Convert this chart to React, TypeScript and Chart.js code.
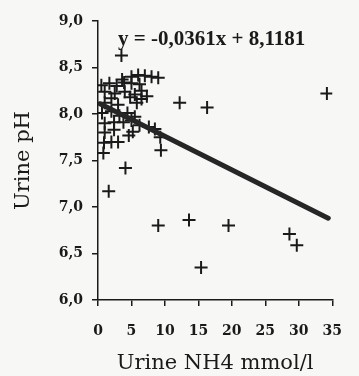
import { useEffect, useRef } from 'react';
import { Chart, registerables } from 'chart.js';

Chart.register(...registerables);

// Urine NH4 (mmol/l)
const nh4 = [
  3.5,
  5.0, 6.0, 7.0, 8.0, 9.0, 3.6,
  0.5, 1.7, 2.8, 3.9, 5.0, 6.2,
  1.0, 2.5, 4.0, 5.5, 6.5,
  2.0, 4.8, 6.5, 7.3,
  1.0, 3.0, 5.8,
  12.2, 16.3, 34.2,
  0.6, 2.0, 4.4, 3.2, 5.5,
  1.0, 2.4, 3.8, 6.2, 7.6, 5.0, 8.5,
  1.0, 2.4, 5.2, 4.6, 9.3,
  0.9, 2.0, 3.0,
  0.8, 9.4,
  4.1, 1.6,
  9.0, 13.6, 19.5, 15.4, 28.6, 29.7,
];
// Urine pH
const ph = [
  8.63,
  8.40, 8.42, 8.41, 8.40, 8.39, 8.37,
  8.31, 8.33, 8.30, 8.34, 8.33, 8.32,
  8.24, 8.22, 8.24, 8.21, 8.25,
  8.17, 8.18, 8.16, 8.19,
  8.12, 8.10, 8.12,
  8.12, 8.07, 8.22,
  8.01, 8.03, 8.01, 7.98, 7.97,
  7.90, 7.91, 7.91, 7.88, 7.86, 7.93, 7.84,
  7.80, 7.83, 7.81, 7.77, 7.75,
  7.69, 7.70, 7.70,
  7.58, 7.61,
  7.42, 7.17,
  6.80, 6.86, 6.80, 6.35, 6.71, 6.59,
];

// Regression line end points (as drawn)
const fitX = [0.3, 34.4];
const fitY = [8.11, 6.88];

const xTickLabels = ['0', '5', '10', '15', '20', '25', '30', '35'];
const yTickLabels = ['6,0', '6,5', '7,0', '7,5', '8,0', '8,5', '9,0'];
const equationText = 'y = -0,0361x + 8,1181';
const equationAt = [3.0, 8.8];

const INK = '#1a1a1a';

export default function App() {
  const ref = useRef<HTMLCanvasElement | null>(null);

  useEffect(() => {
    if (!ref.current) return;
    const points = nh4.map((x, i) => ({ x, y: ph[i] }));
    const line = fitX.map((x, i) => ({ x, y: fitY[i] }));

    const equationPlugin = {
      id: 'equationLabel',
      afterDatasetsDraw(chart: any) {
        const { ctx, scales } = chart;
        const px = scales.x.getPixelForValue(equationAt[0]);
        const py = scales.y.getPixelForValue(equationAt[1]);
        ctx.save();
        ctx.font = 'bold 21px "Liberation Serif"';
        ctx.fillStyle = INK;
        ctx.textAlign = 'left';
        ctx.textBaseline = 'middle';
        ctx.fillText(equationText, px, py);
        ctx.restore();
      },
    };

    const chart = new Chart(ref.current, {
      type: 'scatter',
      data: {
        datasets: [
          {
            type: 'scatter',
            data: points,
            pointStyle: 'cross',
            pointRadius: 6.5,
            pointBorderWidth: 2,
            borderColor: INK,
            backgroundColor: INK,
            order: 2,
          },
          {
            type: 'line',
            data: line,
            borderColor: '#262626',
            borderWidth: 5,
            pointRadius: 0,
            fill: false,
            order: 1,
            borderCapStyle: 'round',
          } as any,
        ],
      },
      options: {
        animation: false,
        responsive: false,
        layout: { padding: { top: 21, right: 12, left: 0, bottom: 0 } },
        plugins: {
          legend: { display: false },
          tooltip: { enabled: false },
        },
        scales: {
          x: {
            type: 'linear',
            min: 0,
            max: 35,
            afterFit: (s: any) => { s.height = 76; },
            afterBuildTicks: (s: any) => {
              s.ticks = xTickLabels.map((_, i) => ({ value: i * 5 }));
            },
            ticks: {
              callback: (_v: any, i: number) => xTickLabels[i],
              font: { family: 'DejaVu Serif', size: 14, weight: 'bold' },
              color: INK,
              padding: 17,
              maxRotation: 0,
            },
            grid: { drawOnChartArea: false, color: INK, tickLength: 6, lineWidth: 1.5 },
            border: { color: INK, width: 1.5 },
            title: {
              display: true,
              text: 'Urine NH4 mmol/l',
              font: { family: 'DejaVu Serif', size: 21 },
              color: INK,
              padding: { top: 13, bottom: 0 },
            },
          },
          y: {
            type: 'linear',
            min: 6,
            max: 9,
            afterFit: (s: any) => { s.width = 98; },
            afterBuildTicks: (s: any) => {
              s.ticks = yTickLabels.map((_, i) => ({ value: 6 + i * 0.5 }));
            },
            ticks: {
              callback: (_v: any, i: number) => yTickLabels[i],
              font: { family: 'DejaVu Serif', size: 14, weight: 'bold' },
              color: INK,
              padding: 9,
            },
            grid: { drawOnChartArea: false, color: INK, tickLength: 6, lineWidth: 1.5 },
            border: { color: INK, width: 1.5 },
            title: {
              display: true,
              text: 'Urine pH',
              font: { family: 'DejaVu Serif', size: 21 },
              color: INK,
              padding: { top: 11, bottom: 0 },
            },
          },
        },
      },
      plugins: [equationPlugin],
    });
    return () => chart.destroy();
  }, []);

  return (
    <div style={{ position: 'fixed', left: 0, top: 0, width: 359, height: 376, background: '#f7f7f5' }}>
      <canvas ref={ref} width={359} height={376} style={{ width: 359, height: 376, display: 'block' }} />
    </div>
  );
}
